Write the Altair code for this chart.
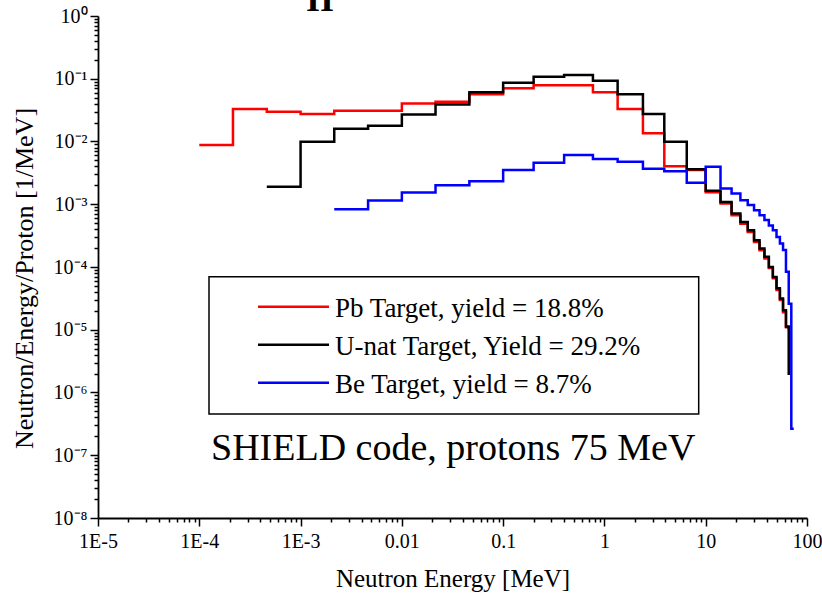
import altair as alt
import pandas as pd
import math

# ---------------- data ----------------
pb_energy = [1e-4, 2.15e-4, 4.64e-4, 1e-3, 2.15e-3, 4.64e-3, 0.01, 0.0215, 0.0464,
             0.1, 0.2, 0.4, 0.77, 1.35, 2.4, 3.9, 6.5,
             10, 14, 18, 22, 26, 30, 34, 38, 42, 46, 50, 54, 58, 62, 66]
pb_value = [8.8e-3, 0.0329, 0.0298, 0.0274, 0.0309, 0.0309, 0.0405, 0.043, 0.0564,
            0.0703, 0.079, 0.079, 0.0607, 0.0329, 0.0135, 0.00405, 0.0035,
            1.55e-3, 1.03e-3, 6.7e-4, 4.9e-4, 3.6e-4, 2.5e-4, 1.85e-4, 1.37e-4,
            9.6e-5, 6.6e-5, 4.3e-5, 2.97e-5, 1.9e-5, 1.1e-5, 1.0e-5]

u_energy = [4.64e-4, 1e-3, 2.15e-3, 4.64e-3, 0.01, 0.0215, 0.0464,
            0.1, 0.2, 0.4, 0.77, 1.35, 2.4, 3.9, 6.5,
            10, 14, 18, 22, 26, 30, 34, 38, 42, 46, 50, 54, 58, 62, 66]
u_value = [1.9e-3, 9.9e-3, 0.016, 0.0178, 0.027, 0.039, 0.0607,
           0.0865, 0.108, 0.1146, 0.093, 0.0564, 0.0274, 0.0099, 0.0036,
           1.64e-3, 1.09e-3, 7.1e-4, 5.2e-4, 3.86e-4, 2.67e-4, 1.97e-4, 1.45e-4,
           1.0e-4, 6.95e-5, 4.6e-5, 3.15e-5, 2.05e-5, 1.13e-5, 1.9e-6]

be_energy = [2.15e-3, 4.64e-3, 0.01, 0.0215, 0.0464,
             0.1, 0.2, 0.4, 0.77, 1.35, 2.4, 3.9, 6.5,
             10, 14, 18, 22, 26, 30, 34, 38, 42, 46, 50, 54, 58, 62, 66, 70, 74]
be_value = [8.35e-4, 1.15e-3, 1.54e-3, 2.0e-3, 2.33e-3,
            3.5e-3, 4.58e-3, 6.07e-3, 5.24e-3, 4.75e-3, 3.67e-3, 3.37e-3, 2.2e-3,
            3.95e-3, 1.79e-3, 1.49e-3, 1.16e-3, 9.7e-4, 8.05e-4, 6.7e-4, 5.6e-4,
            4.6e-4, 3.86e-4, 3.0e-4, 2.36e-4, 1.86e-4, 8.4e-5, 2.6e-5, 2.65e-7, 2.65e-7]

series_names = ["Pb Target, yield = 18.8%",
                "U-nat Target, Yield = 29.2%",
                "Be Target, yield = 8.7%"]
series_colors = ["#ff0000", "#000000", "#0000ff"]

x_decades = [1e-5, 1e-4, 1e-3, 1e-2, 1e-1, 1, 10, 100]
x_tick_labels = ["1E-5", "1E-4", "1E-3", "0.01", "0.1", "1", "10", "100"]
y_decades = [1e-8, 1e-7, 1e-6, 1e-5, 1e-4, 1e-3, 1e-2, 1e-1, 1]
y_tick_labels = ["10⁻⁸", "10⁻⁷", "10⁻⁶", "10⁻⁵", "10⁻⁴", "10⁻³", "10⁻²", "10⁻¹", "10⁰"]

annotation = "SHIELD code, protons 75 MeV"
top_text = "II"

# ---------------- helpers ----------------
FONT = "Liberation Serif"
W, H = 709, 502


def with_minor(decades):
    vals = []
    for d in decades:
        vals.append(d)
        if d < max(decades):
            vals.extend(d * m for m in range(2, 10))
    return vals


LOG = "log(datum.value)/LN10"
IS_DEC = f"abs({LOG} - round({LOG})) < 0.01"


def label_expr(decades, labels):
    parts = [f"round({LOG}) == {round(math.log10(d))} ? '{l}'" for d, l in zip(decades, labels)]
    return f"!({IS_DEC}) ? '' : " + " : ".join(parts) + " : ''"


tick_size = {"condition": {"test": IS_DEC, "value": 8}, "value": 4}

x_scale = alt.Scale(type="log", domain=[1e-5, 100], nice=False)
y_scale = alt.Scale(type="log", domain=[1e-8, 1], nice=False)

x_axis = alt.Axis(values=with_minor(x_decades), labelExpr=label_expr(x_decades, x_tick_labels),
                  tickSize=tick_size, tickColor="black", tickWidth=1.5,
                  domainColor="black", domainWidth=1.8, grid=False,
                  labelFont=FONT, labelFontSize=20, labelColor="black", labelPadding=5,
                  labelOverlap=False, labelFlush=False,
                  title="Neutron Energy [MeV]", titleFont=FONT, titleFontSize=25,
                  titleFontWeight="normal", titleColor="black",
                  titleX=W / 2, titleY=68, titleBaseline="alphabetic", titleAlign="center")
y_axis = alt.Axis(values=with_minor(y_decades), labelExpr=label_expr(y_decades, y_tick_labels),
                  tickSize=tick_size, tickColor="black", tickWidth=1.5,
                  domainColor="black", domainWidth=1.8, grid=False,
                  labelFont=FONT, labelFontSize=20, labelColor="black", labelPadding=3,
                  labelOverlap=False, labelFlush=False,
                  title="Neutron/Energy/Proton [1/MeV]", titleFont=FONT, titleFontSize=26,
                  titleFontWeight="normal", titleColor="black", titleAngle=270,
                  titleX=-66, titleY=262, titleBaseline="alphabetic", titleAlign="center")


def curve(energy, value, color):
    df = pd.DataFrame({"E": energy, "v": value})
    return alt.Chart(df).mark_line(interpolate="step-after", strokeWidth=2.5,
                                   color=color, strokeJoin="miter", strokeCap="butt").encode(
        x=alt.X("E:Q", scale=x_scale, axis=x_axis),
        y=alt.Y("v:Q", scale=y_scale, axis=y_axis),
    )


layers = [
    curve(pb_energy, pb_value, series_colors[0]),
    curve(u_energy, u_value, series_colors[1]),
    curve(be_energy, be_value, series_colors[2]),
]

# legend panel
one = pd.DataFrame({"a": [0]})
layers.append(alt.Chart(one).mark_rect(fill="white", stroke="black", strokeWidth=1.5).encode(
    x=alt.value(111), x2=alt.value(600.7), y=alt.value(260.7), y2=alt.value(398)))
row_y = [290.7, 328.7, 366.7]
for name, color, yy in zip(series_names, series_colors, row_y):
    layers.append(alt.Chart(one).mark_rule(color=color, strokeWidth=2.5).encode(
        x=alt.value(160), x2=alt.value(231), y=alt.value(yy)))
    layers.append(alt.Chart(one).mark_text(text=name, font=FONT, fontSize=27, align="left",
                                           baseline="alphabetic", color="black").encode(
        x=alt.value(237), y=alt.value(yy + 10)))

layers.append(alt.Chart(one).mark_text(text=annotation, font=FONT, fontSize=38, align="left",
                                       baseline="alphabetic", color="black").encode(
    x=alt.value(113), y=alt.value(444)))
layers.append(alt.Chart(one).mark_text(text=top_text, font=FONT, fontSize=36, fontWeight="bold",
                                       align="center", baseline="alphabetic", color="black").encode(
    x=alt.value(222), y=alt.value(-5)))

chart = alt.layer(*layers).properties(
    width=W, height=H,
    autosize=alt.AutoSizeParams(type="none"),
    padding={"left": 98, "top": 16, "right": 15, "bottom": 77},
    background="white",
).configure_view(stroke=None)

chart.save("out.html", embed_options={"renderer": "svg", "actions": False})
